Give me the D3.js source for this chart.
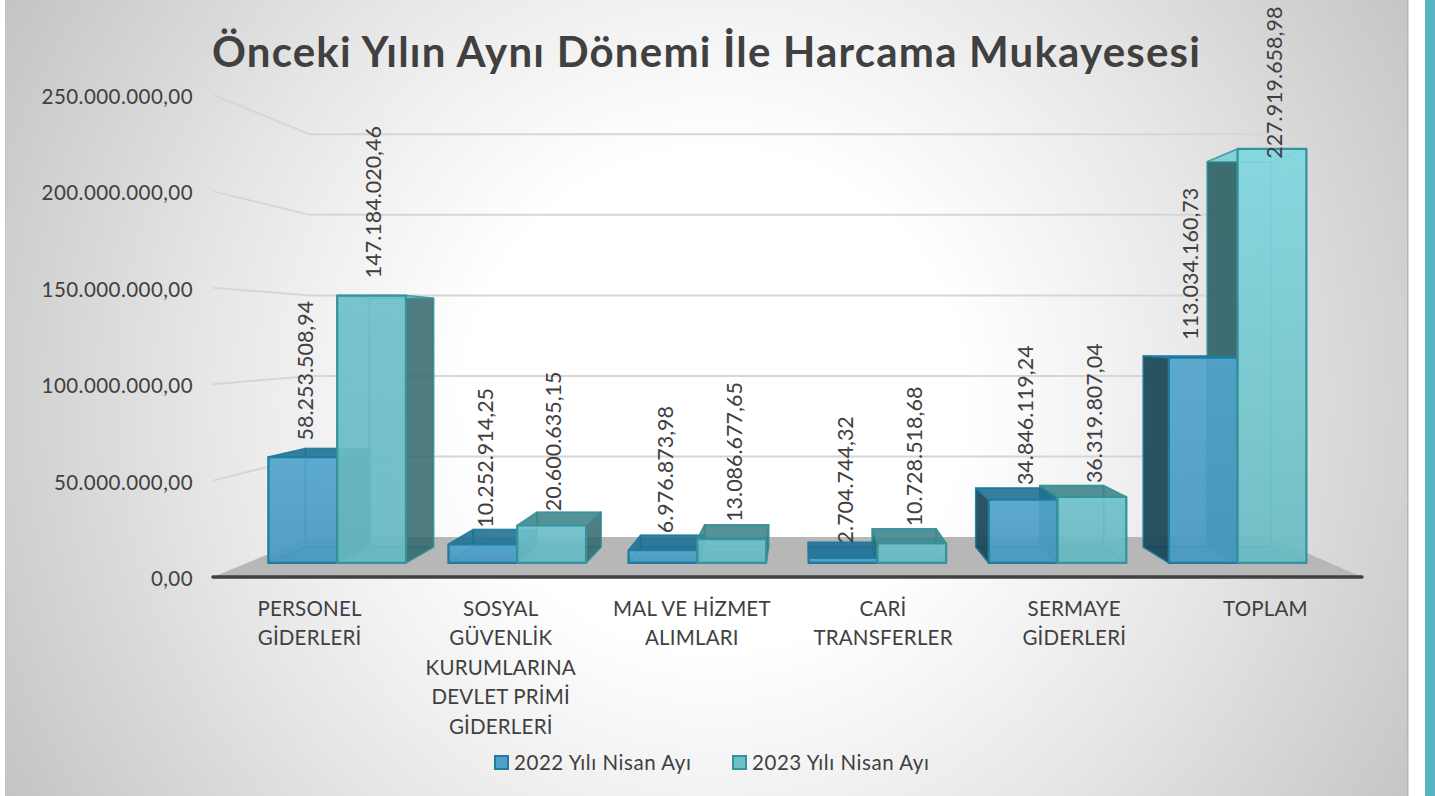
<!DOCTYPE html>
<html><head><meta charset="utf-8">
<script src="https://cdn.jsdelivr.net/npm/d3@7/dist/d3.min.js"></script>
<style>html,body{margin:0;padding:0;background:#fff;overflow:hidden}svg{display:block}text{font-family:Lato,"Open Sans",sans-serif}</style>
</head><body><svg id="c" width="1435" height="796"></svg>
<script>
const categories=[["PERSONEL","GİDERLERİ"],["SOSYAL","GÜVENLİK","KURUMLARINA","DEVLET PRİMİ","GİDERLERİ"],["MAL VE HİZMET","ALIMLARI"],["CARİ","TRANSFERLER"],["SERMAYE","GİDERLERİ"],["TOPLAM"]];
const series2022=[58253508.94,10252914.25,6976873.98,2704744.32,34846119.24,113034160.73];
const series2023=[147184020.46,20600635.15,13086677.65,10728518.68,36319807.04,227919658.98];
const seriesNames=["2022 Yılı Nisan Ayı","2023 Yılı Nisan Ayı"];
const yTicks=[0,50000000,100000000,150000000,200000000,250000000];
const labelLift2022=[8,2,2,-1,3,16];
const labelLift2023=[20,1,3,2.5,2.5,3];

const svg=d3.select("#c");
const defs=svg.append("defs");
const bg=defs.append("radialGradient").attr("id","bg").attr("gradientUnits","userSpaceOnUse").attr("cx",715).attr("cy",400).attr("r",830);
[[0,"#ffffff"],[0.3,"#ffffff"],[0.46,"#f3f3f3"],[0.62,"#e6e6e6"],[1,"#c2c2c2"]].forEach(s=>bg.append("stop").attr("offset",s[0]).attr("stop-color",s[1]));
[["gBlue","#52a4cd","#4899c0"],["gTeal","#6fc1cb","#67b9c1"],["gTealBright","#84d8df","#6abcc4"]].forEach(g=>{
  const lg=defs.append("linearGradient").attr("id",g[0]).attr("x1",0).attr("y1",0).attr("x2",0).attr("y2",1);
  lg.append("stop").attr("offset",0).attr("stop-color",g[1]);
  lg.append("stop").attr("offset",1).attr("stop-color",g[2]);
});
svg.append("rect").attr("x",5).attr("y",0).attr("width",1403).attr("height",796).attr("fill","url(#bg)");
svg.append("rect").attr("x",1407).attr("y",0).attr("width",1.5).attr("height",796).attr("fill","#b4b4b4");
svg.append("rect").attr("x",5).attr("y",0).attr("width",1).attr("height",796).attr("fill","#c4c4c4");
svg.append("rect").attr("x",1425).attr("y",0).attr("width",10).attr("height",796).attr("fill","#55b5c0");

// perspective set-up
const vx=802,vy=334,sBack=0.8355,sBarFront=0.942,sBarBack=0.8765;
const P=(x,y,s)=>[vx+(x-vx)*s,vy+(y-vy)*s];
const x=d3.scaleBand().domain(d3.range(categories.length)).range([213,1360]);
const y=d3.scaleLinear().domain([0,250000000]).range([577,95]);
const barW=73;
const fmt=d3.formatLocale({decimal:",",thousands:".",grouping:[3],currency:["",""]}).format(",.2f");
const line=d3.line();
const poly=pts=>line(pts)+"Z";

// floor
svg.append("path").attr("d",poly([P(213,577,1),P(213,577,sBack),P(1362,577,sBack),P(1362,577,1)])).attr("fill","#b7b7b7");
// gridlines
const grid=svg.append("g").attr("fill","none").attr("stroke","#d6d6d6").attr("stroke-width",2);
yTicks.forEach(t=>{ if(t===0) return;
  grid.append("path").attr("d",line([P(213,y(t),1),P(213,y(t),sBack),P(1362,y(t),sBack)]));
});
// y axis labels
const yg=svg.append("g").attr("transform","translate(193,1.5)").call(d3.axisLeft(y).tickValues(yTicks).tickFormat(fmt).tickSize(0).tickPadding(0));
yg.select(".domain").remove();
yg.selectAll("text").attr("font-size",20.5).attr("letter-spacing",0.45).attr("fill","#404040").style("font-family","Lato").attr("dy","0.34em");

// bars
const pal=[
 {stroke:"#1f7c9f",front:"url(#gBlue)",side:"#1a4452",top:"#1f6f92",under:"#6bb8d8",inner:"#4a9cc4"},
 {stroke:"#35939d",front:"url(#gTeal)",side:"#2f6266",top:"#3d8388",under:"#8adde2",inner:"#60b4bc"}
];
function faces(i,k,v){
  const c=x(i)+x.bandwidth()/2, l=c+(k===0?-barW:0), r=l+barW, t=y(v), b=y(0);
  const f=(X,Y)=>P(X,Y,sBarFront), g=(X,Y)=>P(X,Y,sBarBack);
  const p=pal[k], rightOut=r<vx, leftOut=l>vx;
  return {
    behind:[
      {d:[g(l,t),g(r,t),g(r,b),g(l,b)],fill:p.inner,o:0.3},
      {d:[f(l,b),f(r,b),g(r,b),g(l,b)],fill:p.inner,o:0.6},
      {d:[f(l,t),g(l,t),g(l,b),f(l,b)],fill:leftOut?p.side:p.inner,o:leftOut?0.9:0.3},
      {d:[f(r,t),g(r,t),g(r,b),f(r,b)],fill:rightOut?p.side:p.inner,o:rightOut?0.8:0.3},
      {d:[f(l,t),f(r,t),g(r,t),g(l,t)],fill:t>vy?p.top:p.under,o:t>vy?0.85:0.9}
    ],
    front:{d:[f(l,t),f(r,t),f(r,b),f(l,b)],fill:v>200000000?"url(#gTealBright)":p.front,o:0.9},
    stroke:p.stroke
  };
}
const barsG=svg.append("g").attr("stroke-linejoin","round");
const vals=[series2022,series2023];
categories.forEach((_,i)=>{
  const all=[0,1].map(k=>faces(i,k,vals[k][i]));
  const cat=x(i)+x.bandwidth()/2;
  const order=cat<vx?[0,1]:[1,0];
  const g=barsG.append("g");
  order.forEach(k=>{
    g.selectAll(null).data(all[k].behind).join("path")
      .attr("d",d=>poly(d.d)).attr("fill",d=>d.fill).attr("fill-opacity",d=>d.o)
      .attr("stroke",all[k].stroke).attr("stroke-width",1.6).attr("stroke-opacity",0.7);
  });
  [0,1].forEach(k=>{
    g.append("path").attr("d",poly(all[k].front.d)).attr("fill",all[k].front.fill).attr("fill-opacity",all[k].front.o)
      .attr("stroke",all[k].stroke).attr("stroke-width",2.2);
  });
});
// axis baseline
svg.append("line").attr("x1",213).attr("x2",1362).attr("y1",577).attr("y2",577).attr("stroke","#404040").attr("stroke-width",3.5).attr("stroke-linecap","round");

// data labels
const lifts=[labelLift2022,labelLift2023];
vals.forEach((arr,k)=>arr.forEach((v,i)=>{
  const c=x(i)+x.bandwidth()/2, l=c+(k===0?-barW:0);
  const fc=P(l+barW/2,y(v),sBarFront)[0]+2.5;
  const bt=P(l,y(v),sBarBack)[1]-lifts[k][i];
  const lx=(k===0&&i===5)?fc-15:fc;
  svg.append("text").attr("transform",`translate(${lx},${bt}) rotate(-90)`).attr("dy","0.34em")
    .attr("font-size",21.5).attr("fill","#404040").text(fmt(v));
}));

// category labels
categories.forEach((lines,i)=>{
  const t=svg.append("text").attr("text-anchor","middle").attr("font-size",20.5).attr("letter-spacing",0.2).attr("fill","#404040");
  lines.forEach((s,j)=>t.append("tspan").attr("x",x(i)+x.bandwidth()/2+1).attr("y",616+j*29.4).text(s));
});

// title
svg.append("text").attr("x",212).attr("y",67).attr("font-size",42).attr("font-weight",700).attr("letter-spacing",1.2).attr("fill","#404040")
  .text("Önceki Yılın Aynı Dönemi İle Harcama Mukayesesi");

// legend
const legX=[494,732];
seriesNames.forEach((n,k)=>{
  svg.append("rect").attr("x",legX[k]+1).attr("y",756).attr("width",13).attr("height",13)
    .attr("fill",k?"#6fbfc8":"#4fa0c8").attr("stroke",pal[k].stroke).attr("stroke-width",2);
  svg.append("text").attr("x",legX[k]+20).attr("y",770).attr("font-size",20.5).attr("letter-spacing",0.55).attr("fill","#404040").text(n);
});
</script></body></html>
